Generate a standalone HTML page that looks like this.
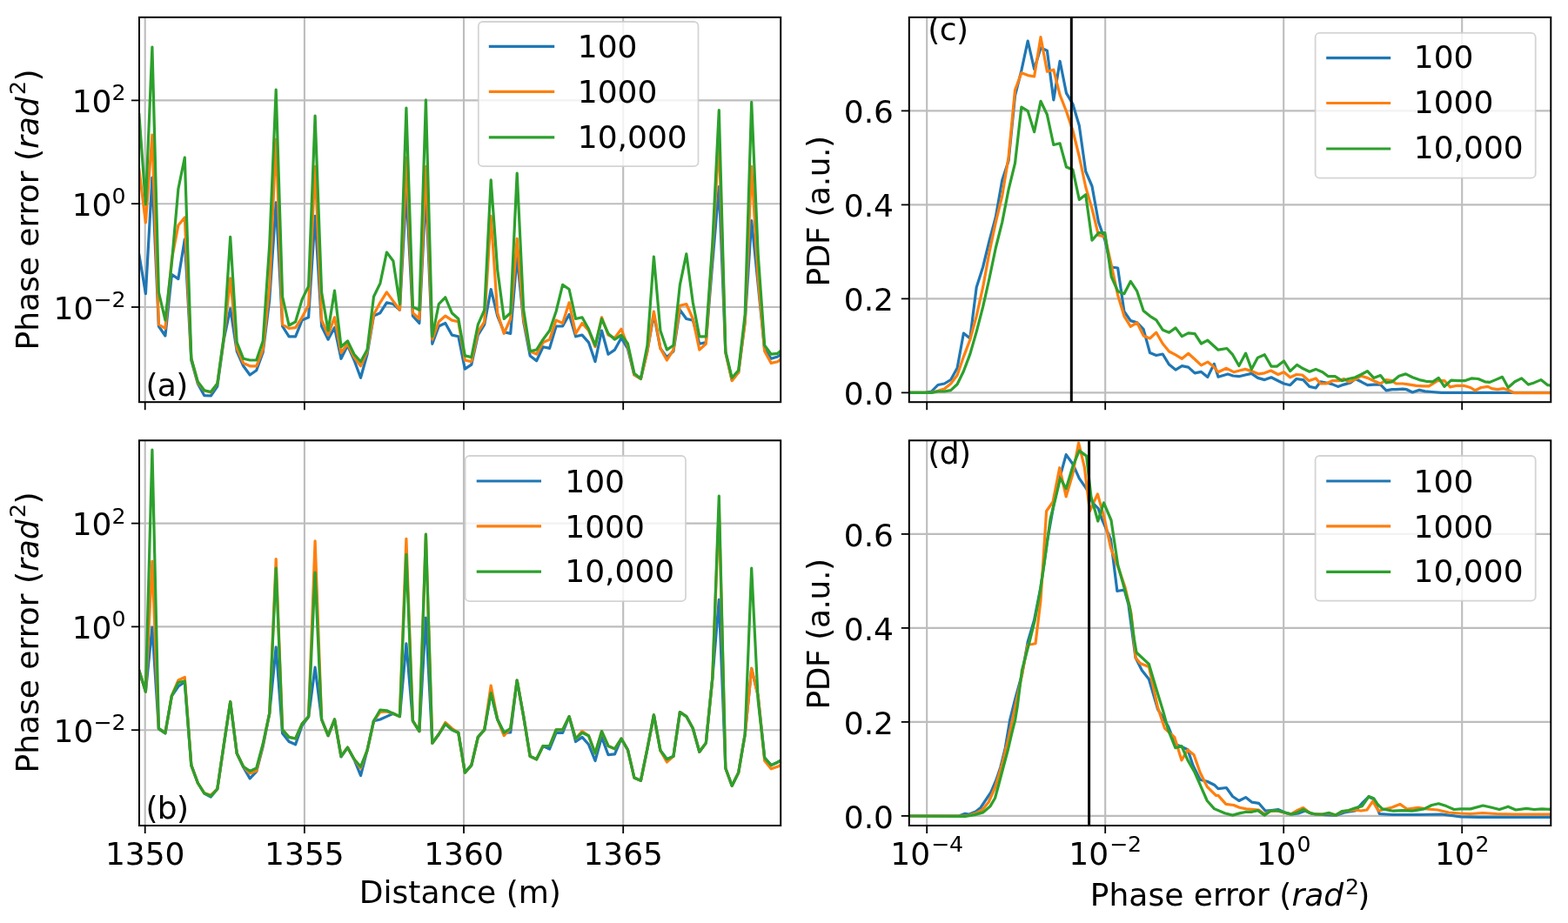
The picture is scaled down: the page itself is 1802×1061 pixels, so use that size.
<!DOCTYPE html>
<html><head><meta charset="utf-8"><title>Phase error figure</title>
<style>html,body{margin:0;padding:0;background:#fff;}body{width:1802px;height:1061px;overflow:hidden;}svg{display:block;}</style>
</head><body>
<svg width="1802" height="1061" viewBox="0 0 1802 1061" font-family="'DejaVu Sans', 'Liberation Sans', sans-serif" fill="#000"><defs><clipPath id="clipa"><rect x="160" y="19.9" width="737.2" height="442.3"/></clipPath><clipPath id="clipb"><rect x="160" y="506.3" width="737.2" height="442.7"/></clipPath><clipPath id="clipc"><rect x="1044.8" y="19.9" width="737.5" height="442.3"/></clipPath><clipPath id="clipd"><rect x="1044.8" y="506.3" width="737.5" height="442.7"/></clipPath></defs>
<line x1="166.7" y1="19.9" x2="166.7" y2="462.2" stroke="#bdbdbd" stroke-width="2.1"/>
<line x1="349.9" y1="19.9" x2="349.9" y2="462.2" stroke="#bdbdbd" stroke-width="2.1"/>
<line x1="533" y1="19.9" x2="533" y2="462.2" stroke="#bdbdbd" stroke-width="2.1"/>
<line x1="716.2" y1="19.9" x2="716.2" y2="462.2" stroke="#bdbdbd" stroke-width="2.1"/>
<line x1="160" y1="115.4" x2="897.2" y2="115.4" stroke="#bdbdbd" stroke-width="2.1"/>
<line x1="160" y1="234.2" x2="897.2" y2="234.2" stroke="#bdbdbd" stroke-width="2.1"/>
<line x1="160" y1="353" x2="897.2" y2="353" stroke="#bdbdbd" stroke-width="2.1"/>
<line x1="166.7" y1="506.3" x2="166.7" y2="949" stroke="#bdbdbd" stroke-width="2.1"/>
<line x1="349.9" y1="506.3" x2="349.9" y2="949" stroke="#bdbdbd" stroke-width="2.1"/>
<line x1="533" y1="506.3" x2="533" y2="949" stroke="#bdbdbd" stroke-width="2.1"/>
<line x1="716.2" y1="506.3" x2="716.2" y2="949" stroke="#bdbdbd" stroke-width="2.1"/>
<line x1="160" y1="601.6" x2="897.2" y2="601.6" stroke="#bdbdbd" stroke-width="2.1"/>
<line x1="160" y1="720.4" x2="897.2" y2="720.4" stroke="#bdbdbd" stroke-width="2.1"/>
<line x1="160" y1="839.2" x2="897.2" y2="839.2" stroke="#bdbdbd" stroke-width="2.1"/>
<line x1="1065.2" y1="19.9" x2="1065.2" y2="462.2" stroke="#bdbdbd" stroke-width="2.1"/>
<line x1="1270.2" y1="19.9" x2="1270.2" y2="462.2" stroke="#bdbdbd" stroke-width="2.1"/>
<line x1="1475.2" y1="19.9" x2="1475.2" y2="462.2" stroke="#bdbdbd" stroke-width="2.1"/>
<line x1="1680.2" y1="19.9" x2="1680.2" y2="462.2" stroke="#bdbdbd" stroke-width="2.1"/>
<line x1="1044.8" y1="451.4" x2="1782.3" y2="451.4" stroke="#bdbdbd" stroke-width="2.1"/>
<line x1="1044.8" y1="343.4" x2="1782.3" y2="343.4" stroke="#bdbdbd" stroke-width="2.1"/>
<line x1="1044.8" y1="235.4" x2="1782.3" y2="235.4" stroke="#bdbdbd" stroke-width="2.1"/>
<line x1="1044.8" y1="127.4" x2="1782.3" y2="127.4" stroke="#bdbdbd" stroke-width="2.1"/>
<line x1="1065.2" y1="506.3" x2="1065.2" y2="949" stroke="#bdbdbd" stroke-width="2.1"/>
<line x1="1270.2" y1="506.3" x2="1270.2" y2="949" stroke="#bdbdbd" stroke-width="2.1"/>
<line x1="1475.2" y1="506.3" x2="1475.2" y2="949" stroke="#bdbdbd" stroke-width="2.1"/>
<line x1="1680.2" y1="506.3" x2="1680.2" y2="949" stroke="#bdbdbd" stroke-width="2.1"/>
<line x1="1044.8" y1="937.9" x2="1782.3" y2="937.9" stroke="#bdbdbd" stroke-width="2.1"/>
<line x1="1044.8" y1="829.9" x2="1782.3" y2="829.9" stroke="#bdbdbd" stroke-width="2.1"/>
<line x1="1044.8" y1="721.9" x2="1782.3" y2="721.9" stroke="#bdbdbd" stroke-width="2.1"/>
<line x1="1044.8" y1="613.9" x2="1782.3" y2="613.9" stroke="#bdbdbd" stroke-width="2.1"/>
<polyline points="159.9,293 167.4,337.6 174.9,204 182.4,375 189.9,386 197.4,315.5 204.9,320.6 212.3,275 219.8,414 227.3,441 234.8,454.7 242.3,455 249.8,444 257.3,390 264.7,354.8 272.2,403.8 279.7,420.8 287.2,431 294.7,425.8 302.2,405 309.7,345 317.2,232.8 324.6,375 332.1,386.8 339.6,386.8 347.1,368.1 354.6,364.8 362.1,248.4 369.6,375 377.1,390.2 384.5,376.6 392,412.3 399.5,397 407,414 414.5,434.3 422,407.2 429.5,363.1 436.9,359.7 444.4,347.8 451.9,349.5 459.4,356.3 466.9,219.9 474.4,363.1 481.9,371.5 489.4,219.9 496.8,395.3 504.3,375 511.8,371.5 519.3,385.1 526.8,386.8 534.3,424.1 541.8,419.1 549.3,385.1 556.7,373.2 564.2,332.5 571.7,363.1 579.2,381.7 586.7,383.4 594.2,295 601.7,370 609.2,408.9 616.6,414.8 624.1,398.7 631.6,400.4 639.1,375 646.6,375 654.1,361.4 661.6,386.8 669,385.1 676.5,393.6 684,415.7 691.5,380 699,407.2 706.5,402.1 714,388.5 721.5,401 728.9,431 736.4,435.5 743.9,403.8 751.4,361.4 758.9,400.4 766.4,410.6 773.9,403.8 781.4,356.3 788.8,366.5 796.3,368.1 803.8,395.3 811.3,393.6 818.8,302 826.3,214.7 833.8,405 841.2,437 848.7,428 856.2,370 863.7,253.6 871.2,327 878.7,402 886.2,412.3 893.7,410 901.1,405" fill="none" stroke="#1f77b4" stroke-width="3.2" stroke-linejoin="round" stroke-linecap="square" clip-path="url(#clipa)"/>
<polyline points="159.9,195 167.4,256 174.9,155 182.4,373 189.9,377.5 197.4,298 204.9,259 212.3,250 219.8,412 227.3,440 234.8,449 242.3,451 249.8,441 257.3,388 264.7,319.8 272.2,400.4 279.7,417.4 287.2,420.8 294.7,420.8 302.2,402 309.7,330 317.2,160.2 324.6,373 332.1,377.5 339.6,376.6 347.1,364.8 354.6,351 362.1,191.4 369.6,368 377.1,385 384.5,364.8 392,405.5 399.5,395.3 407,410.6 414.5,420.8 422,403.8 429.5,361.4 436.9,347.8 444.4,335.9 451.9,346.1 459.4,356.3 466.9,181 474.4,359.7 481.9,366.5 489.4,191.4 496.8,390.2 504.3,369.8 511.8,363.1 519.3,368.1 526.8,369.8 534.3,414 541.8,415.7 549.3,381.7 556.7,369.8 564.2,248.4 571.7,359.7 579.2,383.4 586.7,366.5 594.2,274.3 601.7,366.5 609.2,403.8 616.6,407 624.1,393.6 631.6,390.2 639.1,368.1 646.6,371.5 654.1,347.8 661.6,383.4 669,371.5 676.5,380 684,398.7 691.5,364.8 699,385.1 706.5,388.5 714,378.3 721.5,398 728.9,431 736.4,435.5 743.9,403.8 751.4,358 758.9,400.4 766.4,414 773.9,402.1 781.4,351.2 788.8,349.5 796.3,366.5 803.8,402.1 811.3,395.3 818.8,286.7 826.3,160.2 833.8,405 841.2,437.7 848.7,428 856.2,370 863.7,191.4 871.2,319 878.7,403.8 886.2,417.4 893.7,415.7 901.1,410" fill="none" stroke="#ff7f0e" stroke-width="3.2" stroke-linejoin="round" stroke-linecap="square" clip-path="url(#clipa)"/>
<polyline points="159.9,131.7 167.4,235 174.9,54 182.4,336 189.9,368 197.4,302 204.9,217 212.3,181 219.8,412 227.3,438.6 234.8,448.8 242.3,450.5 249.8,441 257.3,386.8 264.7,272.4 272.2,393.6 279.7,412.3 287.2,414 294.7,414 302.2,392 309.7,282 317.2,103.2 324.6,341 332.1,374 339.6,369.8 347.1,344.4 354.6,329 362.1,133 369.6,336 377.1,380 384.5,334.2 392,398.7 399.5,391.9 407,407.2 414.5,415.7 422,402.1 429.5,341 436.9,325.7 444.4,290 451.9,300 459.4,349.5 466.9,124 474.4,352.9 481.9,356.3 489.4,114.8 496.8,386.8 504.3,349.5 511.8,341.8 519.3,359.7 526.8,366.5 534.3,408.9 541.8,410.6 549.3,373.2 556.7,356.3 564.2,206.9 571.7,310 579.2,366.5 586.7,359.7 594.2,199.1 601.7,356 609.2,403.8 616.6,402 624.1,390.2 631.6,380 639.1,358 646.6,327.4 654.1,332.5 661.6,366.5 669,364.8 676.5,378.3 684,397 691.5,366.5 699,383.4 706.5,390.2 714,385.1 721.5,395 728.9,429.2 736.4,435.2 743.9,397 751.4,295.2 758.9,380 766.4,402.1 773.9,397 781.4,327.4 788.8,291.8 796.3,347.8 803.8,386.8 811.3,386.8 818.8,280 826.3,126.5 833.8,403.8 841.2,434.3 848.7,425.8 856.2,361.4 863.7,117.4 871.2,292 878.7,397 886.2,407.2 893.7,406.3 901.1,400" fill="none" stroke="#2ca02c" stroke-width="3.2" stroke-linejoin="round" stroke-linecap="square" clip-path="url(#clipa)"/>
<polyline points="159.9,771 167.4,795.1 174.9,721 182.4,838 189.9,843 197.4,800 204.9,789 212.3,784 219.8,879.6 227.3,900 234.8,912 242.3,916 249.8,907 257.3,855.8 264.7,807 272.2,866 279.7,882 287.2,894.9 294.7,887 302.2,858 309.7,820.2 317.2,743.8 324.6,843 332.1,852.5 339.6,855.8 347.1,834 354.6,824 362.1,767.1 369.6,827 377.1,845.7 384.5,827 392,870 399.5,859.2 407,873 414.5,891.5 422,862.6 429.5,828.7 436.9,827 444.4,823.6 451.9,820.2 459.4,823.6 466.9,739.9 474.4,828.7 481.9,840.6 489.4,710 496.8,854.2 504.3,844 511.8,832.1 519.3,838.9 526.8,842.3 534.3,888.1 541.8,879.6 549.3,847.4 556.7,838.9 564.2,796.5 571.7,827 579.2,842.3 586.7,842 594.2,782 601.7,823.6 609.2,869.4 616.6,872.8 624.1,857.5 631.6,861 639.1,842.3 646.6,842.3 654.1,823.6 661.6,852.5 669,847.4 676.5,855.8 684,874.5 691.5,847.4 699,867.7 706.5,866.9 714,849.1 721.5,862 728.9,894 736.4,897.4 743.9,860.9 751.4,821.9 758.9,862.6 766.4,872.8 773.9,869.4 781.4,818.5 788.8,823.6 796.3,837.2 803.8,864.3 811.3,854.1 818.8,779.5 826.3,689.3 833.8,883 841.2,903.3 848.7,888.1 856.2,844 863.7,768.4 871.2,800 878.7,871.1 886.2,879.6 893.7,876.2 901.1,872" fill="none" stroke="#1f77b4" stroke-width="3.2" stroke-linejoin="round" stroke-linecap="square" clip-path="url(#clipb)"/>
<polyline points="159.9,771 167.4,795.1 174.9,645 182.4,837.4 189.9,842.6 197.4,799.6 204.9,782 212.3,778.5 219.8,879.6 227.3,900 234.8,911.8 242.3,914 249.8,906.8 257.3,855.8 264.7,806.6 272.2,866 279.7,881.3 287.2,889 294.7,886 302.2,856 309.7,820.2 317.2,642.6 324.6,838.9 332.1,847.4 339.6,849 347.1,832.1 354.6,823.6 362.1,621.9 369.6,827 377.1,845.7 384.5,827 392,869.4 399.5,859.2 407,872.8 414.5,883 422,862.6 429.5,828.7 436.9,818.5 444.4,818 451.9,820.2 459.4,823.6 466.9,619.3 474.4,828.7 481.9,840.6 489.4,614.1 496.8,854.2 504.3,844 511.8,830.4 519.3,837.2 526.8,842.3 534.3,888.1 541.8,879.6 549.3,847.4 556.7,838.9 564.2,788 571.7,827 579.2,845.7 586.7,837.2 594.2,782 601.7,823.6 609.2,869.4 616.6,872.8 624.1,857.5 631.6,857.5 639.1,838.9 646.6,838.9 654.1,823.6 661.6,849.1 669,840.6 676.5,845.7 684,866 691.5,840.6 699,857.5 706.5,860.9 714,849.1 721.5,862 728.9,894 736.4,897.4 743.9,860.9 751.4,821.9 758.9,862.6 766.4,876 773.9,869.4 781.4,818.5 788.8,823.6 796.3,837.2 803.8,864.3 811.3,854.1 818.8,779.5 826.3,583 833.8,883 841.2,903.3 848.7,888.1 856.2,844 863.7,768.4 871.2,800 878.7,874.5 886.2,883.8 893.7,881.3 901.1,877" fill="none" stroke="#ff7f0e" stroke-width="3.2" stroke-linejoin="round" stroke-linecap="square" clip-path="url(#clipb)"/>
<polyline points="159.9,771 167.4,795.1 174.9,517 182.4,837.4 189.9,842.6 197.4,799.6 204.9,784.5 212.3,783 219.8,879.6 227.3,900 234.8,911.8 242.3,915.2 249.8,906.8 257.3,855.8 264.7,806.6 272.2,866 279.7,881.3 287.2,886.4 294.7,883 302.2,855 309.7,820.2 317.2,653 324.6,838.9 332.1,847.4 339.6,849 347.1,832.1 354.6,823.6 362.1,658.2 369.6,827 377.1,845.7 384.5,827 392,869.4 399.5,859.2 407,872.8 414.5,881.3 422,862.6 429.5,828.7 436.9,816 444.4,816.8 451.9,820.2 459.4,823.6 466.9,637.4 474.4,828.7 481.9,840.6 489.4,614.1 496.8,854.2 504.3,844 511.8,832.1 519.3,838.9 526.8,842.3 534.3,888.1 541.8,879.6 549.3,847.4 556.7,838.9 564.2,796.5 571.7,827 579.2,842.3 586.7,837.2 594.2,782 601.7,823.6 609.2,869.4 616.6,872.8 624.1,857.5 631.6,857.5 639.1,838.9 646.6,838.9 654.1,823.6 661.6,849.1 669,842.3 676.5,845.7 684,866 691.5,840.6 699,857.5 706.5,860.9 714,849.1 721.5,862 728.9,894 736.4,897.4 743.9,860.9 751.4,821.9 758.9,862.6 766.4,872.8 773.9,869.4 781.4,818.5 788.8,823.6 796.3,837.2 803.8,864.3 811.3,854.1 818.8,779.5 826.3,570 833.8,883 841.2,903.3 848.7,888.1 856.2,844 863.7,653 871.2,805 878.7,871.1 886.2,879.6 893.7,876.2 901.1,872" fill="none" stroke="#2ca02c" stroke-width="3.2" stroke-linejoin="round" stroke-linecap="square" clip-path="url(#clipb)"/>
<polyline points="1041,451.3 1048.4,451.3 1055.8,451.3 1063.2,451.3 1070.5,450 1077.9,442.5 1085.3,441 1092.7,436.5 1100.1,423 1107.4,383 1114.8,389 1122.2,330.2 1129.6,307 1137,276.7 1144.3,249.5 1151.7,207.3 1159.1,184.7 1166.5,110 1173.9,80.9 1181.2,47 1188.6,79.5 1196,55 1203.4,58.3 1210.8,114.9 1218.1,70.3 1225.5,107.1 1232.9,119.5 1240.3,144.4 1247.7,197 1255,214 1262.4,255 1269.8,276 1277.2,307 1284.6,308 1291.9,358 1299.3,368.6 1306.7,370.9 1314.1,378.4 1321.5,405.5 1328.8,408.5 1336.2,407 1343.6,419.1 1351,425.1 1358.4,420.6 1365.7,422.1 1373.1,428.9 1380.5,427.4 1387.9,433.4 1395.3,418.3 1400,433.3 1411.1,430 1417,432 1423.9,432.7 1431.1,431 1438.3,429.4 1445.5,434.4 1453.3,436.6 1461,433.8 1468.8,437.7 1475.5,441 1482.7,442.7 1489.9,435.5 1497.7,436.6 1504.9,444.4 1512.1,446 1517.6,438.8 1524.3,440 1531,441.6 1537.6,444.4 1544.3,442.1 1552,439.9 1557.6,435.5 1564.3,438.8 1571.5,442.7 1578.7,442.1 1586.5,442.1 1593.1,448.8 1599.8,447.7 1604.4,447.7 1612.2,447.1 1616.6,447.7 1623.3,451 1631.1,448.2 1637.7,449.9 1645.5,450.5 1656.6,451.3 1786,451.3" fill="none" stroke="#1f77b4" stroke-width="3.2" stroke-linejoin="round" stroke-linecap="square" clip-path="url(#clipc)"/>
<polyline points="1041,451.3 1048.4,451.3 1055.8,451.3 1063.2,451.3 1070.5,451.3 1077.9,449.3 1085.3,447 1092.7,441 1100.1,431.2 1107.4,410.1 1114.8,390.5 1122.2,363.3 1129.6,330.2 1137,290 1144.3,255.6 1151.7,225.4 1159.1,180.2 1166.5,103.5 1173.9,83.7 1181.2,86.6 1188.6,88 1196,42.7 1203.4,82.3 1210.8,80.2 1218.1,109.2 1225.5,128 1232.9,150 1240.3,180 1247.7,215 1255,240 1262.4,270.5 1269.8,272 1277.2,304.5 1284.6,339.2 1291.9,363.3 1299.3,375.4 1306.7,370.9 1314.1,385.9 1321.5,389 1328.8,382.2 1336.2,395 1343.6,404 1351,407.8 1358.4,412.3 1365.7,406.3 1373.1,413 1380.5,419.9 1387.9,416.1 1395.3,422.1 1400,427.7 1409.4,423.3 1417.8,427.7 1424.4,426 1431.1,424.4 1438.3,426.6 1446.6,429.9 1453.3,428.8 1460.5,426 1468.8,430.5 1475.5,427.7 1482.7,433.8 1489.9,430.5 1496.6,431 1504.3,437.7 1512.1,434.9 1517.6,441 1524.3,441 1531,437.7 1538.7,437.7 1544.3,435.5 1550.5,439 1557.6,436 1564.3,432.2 1571.5,434.4 1578.7,437.7 1586.5,441 1593.1,436.6 1599.8,437.7 1604.4,441 1612.2,441 1620,442.1 1627.7,443.3 1635.5,443.8 1642.2,443.8 1652.2,437.7 1660,437.7 1666.6,444.9 1674.4,443.3 1682.1,443.3 1689.9,445.5 1695.4,448.8 1702.1,445.5 1709.9,444.4 1714.3,446.6 1721,447.7 1727.6,446.6 1734.3,448.8 1739.8,451.6 1786,451.6" fill="none" stroke="#ff7f0e" stroke-width="3.2" stroke-linejoin="round" stroke-linecap="square" clip-path="url(#clipc)"/>
<polyline points="1041,451.3 1048.4,451.3 1055.8,451.3 1063.2,451.3 1070.5,451.3 1077.9,450 1085.3,450 1092.7,448.6 1100.1,441.8 1107.4,426.7 1114.8,407.1 1122.2,381.4 1129.6,352.8 1137,320 1144.3,285 1151.7,255.6 1159.1,217.9 1166.5,187.7 1173.9,123 1181.2,127.6 1188.6,151.6 1196,116.3 1203.4,131.8 1210.8,166.5 1218.1,164.8 1225.5,192 1232.9,195 1240.3,229.5 1247.7,223.8 1255,276.2 1262.4,267.7 1269.8,267.7 1277.2,318 1284.6,334.7 1291.9,337.7 1299.3,323.4 1306.7,334.7 1314.1,357.3 1321.5,363.3 1328.8,367.8 1336.2,379.2 1343.6,382.2 1351,376.9 1358.4,386.7 1365.7,382.9 1373.1,383.7 1380.5,395 1387.9,391.2 1395.3,398 1400,402.2 1410,400.5 1416.6,407.7 1423.9,420.5 1431.6,406.1 1438.3,424.4 1445.5,411.1 1453.3,407.7 1461,421.1 1467.7,421.1 1475.5,415 1482.7,426.6 1490.5,419.4 1497.7,423.8 1504.9,427.2 1512.1,424.4 1519.9,427.7 1526.5,432.7 1534.3,432.7 1542.1,437.7 1549.8,435.5 1557.6,433.8 1564.3,430.5 1571.5,426.6 1578.7,434.4 1586.5,431.6 1593.1,439.9 1600,438.8 1607.8,432.2 1615.5,429.9 1623.3,433.8 1631.1,436.6 1638.8,438.3 1646.6,438.8 1653.3,434.4 1659.9,444.4 1667.7,437.1 1675.5,437.7 1683.2,437.7 1691,434.9 1698.8,435.5 1706.5,438.8 1712.1,439.4 1718.7,436.6 1726.5,433.3 1733.2,445.5 1740.9,438.8 1748.7,434.9 1756.5,442.1 1763.1,439.9 1770.9,436.6 1778.7,442.7 1786,443.3" fill="none" stroke="#2ca02c" stroke-width="3.2" stroke-linejoin="round" stroke-linecap="square" clip-path="url(#clipc)"/>
<polyline points="1039,938 1102,938 1109.1,935.3 1113.8,936 1121.3,933 1126.9,928.5 1138.8,910.7 1144.7,897 1149.8,882 1155.2,860.1 1160.7,827.3 1164.8,810.9 1167.1,802 1174.6,775 1181.1,738 1188.5,713 1196,675 1203.5,622 1211,580 1217.7,549.8 1225.2,522.6 1232.8,533.2 1240.3,549.8 1248.6,561.8 1255.8,578 1262.2,584.5 1266,596 1276.5,620 1283.9,679.5 1292.2,678 1296.8,694.6 1305,756 1312.3,770.5 1320.4,780.7 1330.5,815.1 1342.7,835.4 1350.8,855.6 1357,858 1365,861.7 1371.1,880 1379.2,896.2 1387.3,898.2 1395.4,902.2 1400,906.6 1409.4,905.5 1416.6,915.5 1423.9,920.5 1431.6,916.6 1438.8,922.2 1446.6,923.3 1454.4,932.2 1461,931.5 1468.8,930.5 1477.7,934.4 1485,936 1492,935 1500,932 1508,935.5 1520,936.5 1534.8,937.5 1545,934 1557.6,932 1566.5,922.2 1573,916 1578.7,918.5 1585.3,935.5 1600,936.5 1630,936.5 1656.6,936 1678.8,938.8 1700,939.4 1786,939.4" fill="none" stroke="#1f77b4" stroke-width="3.2" stroke-linejoin="round" stroke-linecap="square" clip-path="url(#clipd)"/>
<polyline points="1039,938 1109,938 1113.8,937 1121.3,935 1128.8,931 1136.2,922 1143.7,905 1151.2,880 1158.7,850 1166.1,815 1173.6,780 1181.1,741 1186.2,740.5 1190,739.7 1196,690 1202.6,587.5 1210,577 1217.7,537.7 1225.2,570.9 1232.8,545 1239.6,509 1246.4,537.7 1252.4,587.5 1261.4,567.9 1269,595 1276.5,630 1286.2,655.4 1293,675 1300,705 1305.2,756.3 1310.3,762.4 1320.4,766.5 1330.5,813.1 1338.6,837.4 1349.8,847.5 1357.9,873.9 1365,862 1372.1,867.8 1379.2,888 1387.3,904.3 1397.4,914.4 1400,914.4 1408.9,924.4 1417.8,925.5 1424.4,928.3 1432.2,929.9 1446.6,931 1453.3,936 1459.9,932.5 1467.7,932 1475.5,934 1483.2,936 1489.9,932 1497.7,928.5 1505.4,934.5 1512.1,936 1519.9,936 1527.6,935 1534.8,937.1 1542.1,933 1549.8,932 1557.6,931 1564,932 1570.9,931 1577.6,921.1 1584.2,932.2 1592,930 1600,928 1608.9,924.4 1617,930 1630,928.3 1640,930 1652.2,931 1665,934 1678,935 1689.9,935.5 1704,934.5 1720,935.5 1740,936 1786,936" fill="none" stroke="#ff7f0e" stroke-width="3.2" stroke-linejoin="round" stroke-linecap="square" clip-path="url(#clipd)"/>
<polyline points="1039,938 1109.1,938.3 1120.1,936.6 1129.6,933.9 1137.8,927.1 1143.5,917.5 1147.6,902.5 1153,882 1158.5,861.5 1163.3,841 1166.7,827.3 1169.4,810.9 1174.4,770.7 1183.2,737.5 1189.2,713.3 1195.2,680.2 1199.8,650 1207.1,596.5 1212.4,575.4 1218.5,549.8 1225.2,561.8 1232.8,536.2 1240.3,518.1 1248.6,524.1 1253.9,570.9 1261.8,599 1268.5,578 1277,598 1284.7,649.4 1292.2,676.5 1298.3,697.6 1303.5,735 1306,750 1320.4,763.4 1328.5,790.8 1336.6,817.1 1342.7,839.4 1350.8,859.7 1357.9,857.7 1365,873.9 1373.1,888 1380.2,904.3 1387.3,920.5 1395.4,929.6 1407.5,934.7 1416.6,937.1 1424.4,934.9 1432.2,933.3 1438.8,933.3 1445.5,931.6 1453.3,937.1 1459.9,932.2 1467.7,931.6 1475.5,933.8 1483.2,936 1489.9,934.4 1497.7,930.5 1505.4,934.5 1512.1,936 1519.9,936 1527.6,934.4 1534.8,937.1 1542.1,932.7 1549.8,931.6 1557.6,928.8 1565.4,926.6 1573.1,915.5 1578.7,917.7 1583.1,924.4 1588.7,929.9 1601.1,932.2 1612,931.6 1623,932.2 1636.6,929.9 1645.5,925.5 1653.3,923.8 1662.1,926.6 1671,930.5 1678.8,929.9 1689.9,929.9 1704.3,926 1714.3,928.3 1723.2,930.5 1733.2,927.2 1742,931 1754.3,929.4 1763.1,930.5 1772,929.9 1786,930.5" fill="none" stroke="#2ca02c" stroke-width="3.2" stroke-linejoin="round" stroke-linecap="square" clip-path="url(#clipd)"/>
<line x1="1231.3" y1="19.9" x2="1231.3" y2="462.2" stroke="#000000" stroke-width="3.0"/>
<line x1="1251.6" y1="506.3" x2="1251.6" y2="949" stroke="#000000" stroke-width="3.0"/>
<rect x="549.8" y="25" width="252.7" height="166.2" rx="5" ry="5" fill="#ffffff" fill-opacity="0.8" stroke="#cccccc" stroke-opacity="0.85" stroke-width="1.8"/>
<line x1="561.8" y1="53.4" x2="637.2" y2="53.4" stroke="#1f77b4" stroke-width="3.2"/>
<text x="663.8" y="66.2" font-size="36" text-anchor="start" >100</text>
<line x1="561.8" y1="105.4" x2="637.2" y2="105.4" stroke="#ff7f0e" stroke-width="3.2"/>
<text x="663.8" y="118.2" font-size="36" text-anchor="start" >1000</text>
<line x1="561.8" y1="157.9" x2="637.2" y2="157.9" stroke="#2ca02c" stroke-width="3.2"/>
<text x="663.8" y="169.9" font-size="36" text-anchor="start" >10,000</text>
<rect x="534.6" y="524" width="253.4" height="167.2" rx="5" ry="5" fill="#ffffff" fill-opacity="0.8" stroke="#cccccc" stroke-opacity="0.85" stroke-width="1.8"/>
<line x1="547.7" y1="553" x2="622" y2="553" stroke="#1f77b4" stroke-width="3.2"/>
<text x="649.3" y="565.6" font-size="36" text-anchor="start" >100</text>
<line x1="547.7" y1="604.9" x2="622" y2="604.9" stroke="#ff7f0e" stroke-width="3.2"/>
<text x="649.3" y="617.6" font-size="36" text-anchor="start" >1000</text>
<line x1="547.7" y1="657.2" x2="622" y2="657.2" stroke="#2ca02c" stroke-width="3.2"/>
<text x="649.3" y="669.3" font-size="36" text-anchor="start" >10,000</text>
<rect x="1511.6" y="37.9" width="253.1" height="166.8" rx="5" ry="5" fill="#ffffff" fill-opacity="0.8" stroke="#cccccc" stroke-opacity="0.85" stroke-width="1.8"/>
<line x1="1524.2" y1="66.6" x2="1598.2" y2="66.6" stroke="#1f77b4" stroke-width="3.2"/>
<text x="1624.8" y="78.4" font-size="36" text-anchor="start" >100</text>
<line x1="1524.2" y1="118.5" x2="1598.2" y2="118.5" stroke="#ff7f0e" stroke-width="3.2"/>
<text x="1624.8" y="130.4" font-size="36" text-anchor="start" >1000</text>
<line x1="1524.2" y1="171" x2="1598.2" y2="171" stroke="#2ca02c" stroke-width="3.2"/>
<text x="1624.8" y="182.1" font-size="36" text-anchor="start" >10,000</text>
<rect x="1511.6" y="524" width="253.1" height="166.7" rx="5" ry="5" fill="#ffffff" fill-opacity="0.8" stroke="#cccccc" stroke-opacity="0.85" stroke-width="1.8"/>
<line x1="1524.2" y1="553" x2="1598.2" y2="553" stroke="#1f77b4" stroke-width="3.2"/>
<text x="1624.6" y="565.6" font-size="36" text-anchor="start" >100</text>
<line x1="1524.2" y1="604.9" x2="1598.2" y2="604.9" stroke="#ff7f0e" stroke-width="3.2"/>
<text x="1624.6" y="617.6" font-size="36" text-anchor="start" >1000</text>
<line x1="1524.2" y1="657.4" x2="1598.2" y2="657.4" stroke="#2ca02c" stroke-width="3.2"/>
<text x="1624.6" y="669.3" font-size="36" text-anchor="start" >10,000</text>
<rect x="160" y="19.9" width="737.2" height="442.3" fill="none" stroke="#000" stroke-width="2.0" stroke-linejoin="miter"/>
<rect x="160" y="506.3" width="737.2" height="442.7" fill="none" stroke="#000" stroke-width="2.0" stroke-linejoin="miter"/>
<rect x="1044.8" y="19.9" width="737.5" height="442.3" fill="none" stroke="#000" stroke-width="2.0" stroke-linejoin="miter"/>
<rect x="1044.8" y="506.3" width="737.5" height="442.7" fill="none" stroke="#000" stroke-width="2.0" stroke-linejoin="miter"/>
<line x1="166.7" y1="462.2" x2="166.7" y2="471.2" stroke="#000" stroke-width="1.8"/>
<line x1="349.9" y1="462.2" x2="349.9" y2="471.2" stroke="#000" stroke-width="1.8"/>
<line x1="533" y1="462.2" x2="533" y2="471.2" stroke="#000" stroke-width="1.8"/>
<line x1="716.2" y1="462.2" x2="716.2" y2="471.2" stroke="#000" stroke-width="1.8"/>
<line x1="151" y1="115.4" x2="160" y2="115.4" stroke="#000" stroke-width="1.8"/>
<line x1="151" y1="234.2" x2="160" y2="234.2" stroke="#000" stroke-width="1.8"/>
<line x1="151" y1="353" x2="160" y2="353" stroke="#000" stroke-width="1.8"/>
<line x1="166.7" y1="949" x2="166.7" y2="958" stroke="#000" stroke-width="1.8"/>
<line x1="349.9" y1="949" x2="349.9" y2="958" stroke="#000" stroke-width="1.8"/>
<line x1="533" y1="949" x2="533" y2="958" stroke="#000" stroke-width="1.8"/>
<line x1="716.2" y1="949" x2="716.2" y2="958" stroke="#000" stroke-width="1.8"/>
<line x1="151" y1="601.6" x2="160" y2="601.6" stroke="#000" stroke-width="1.8"/>
<line x1="151" y1="720.4" x2="160" y2="720.4" stroke="#000" stroke-width="1.8"/>
<line x1="151" y1="839.2" x2="160" y2="839.2" stroke="#000" stroke-width="1.8"/>
<line x1="1065.2" y1="462.2" x2="1065.2" y2="471.2" stroke="#000" stroke-width="1.8"/>
<line x1="1270.2" y1="462.2" x2="1270.2" y2="471.2" stroke="#000" stroke-width="1.8"/>
<line x1="1475.2" y1="462.2" x2="1475.2" y2="471.2" stroke="#000" stroke-width="1.8"/>
<line x1="1680.2" y1="462.2" x2="1680.2" y2="471.2" stroke="#000" stroke-width="1.8"/>
<line x1="1035.8" y1="451.4" x2="1044.8" y2="451.4" stroke="#000" stroke-width="1.8"/>
<line x1="1035.8" y1="343.4" x2="1044.8" y2="343.4" stroke="#000" stroke-width="1.8"/>
<line x1="1035.8" y1="235.4" x2="1044.8" y2="235.4" stroke="#000" stroke-width="1.8"/>
<line x1="1035.8" y1="127.4" x2="1044.8" y2="127.4" stroke="#000" stroke-width="1.8"/>
<line x1="1065.2" y1="949" x2="1065.2" y2="958" stroke="#000" stroke-width="1.8"/>
<line x1="1270.2" y1="949" x2="1270.2" y2="958" stroke="#000" stroke-width="1.8"/>
<line x1="1475.2" y1="949" x2="1475.2" y2="958" stroke="#000" stroke-width="1.8"/>
<line x1="1680.2" y1="949" x2="1680.2" y2="958" stroke="#000" stroke-width="1.8"/>
<line x1="1035.8" y1="937.9" x2="1044.8" y2="937.9" stroke="#000" stroke-width="1.8"/>
<line x1="1035.8" y1="829.9" x2="1044.8" y2="829.9" stroke="#000" stroke-width="1.8"/>
<line x1="1035.8" y1="721.9" x2="1044.8" y2="721.9" stroke="#000" stroke-width="1.8"/>
<line x1="1035.8" y1="613.9" x2="1044.8" y2="613.9" stroke="#000" stroke-width="1.8"/>
<text x="144.5" y="129.2" font-size="36" text-anchor="end">10<tspan font-size="25.2" dx="0" dy="-13.8">2</tspan></text>
<text x="144.5" y="248" font-size="36" text-anchor="end">10<tspan font-size="25.2" dx="0" dy="-13.8">0</tspan></text>
<text x="144.5" y="366.8" font-size="36" text-anchor="end">10<tspan font-size="25.2" dx="0" dy="-13.8">−2</tspan></text>
<text x="144.5" y="615.4" font-size="36" text-anchor="end">10<tspan font-size="25.2" dx="0" dy="-13.8">2</tspan></text>
<text x="144.5" y="734.2" font-size="36" text-anchor="end">10<tspan font-size="25.2" dx="0" dy="-13.8">0</tspan></text>
<text x="144.5" y="853" font-size="36" text-anchor="end">10<tspan font-size="25.2" dx="0" dy="-13.8">−2</tspan></text>
<text x="166.7" y="994" font-size="36" text-anchor="middle" >1350</text>
<text x="349.9" y="994" font-size="36" text-anchor="middle" >1355</text>
<text x="533" y="994" font-size="36" text-anchor="middle" >1360</text>
<text x="716.2" y="994" font-size="36" text-anchor="middle" >1365</text>
<text x="1027" y="465.2" font-size="36" text-anchor="end" >0.0</text>
<text x="1027" y="357.2" font-size="36" text-anchor="end" >0.2</text>
<text x="1027" y="249.2" font-size="36" text-anchor="end" >0.4</text>
<text x="1027" y="141.2" font-size="36" text-anchor="end" >0.6</text>
<text x="1027" y="951.7" font-size="36" text-anchor="end" >0.0</text>
<text x="1027" y="843.7" font-size="36" text-anchor="end" >0.2</text>
<text x="1027" y="735.7" font-size="36" text-anchor="end" >0.4</text>
<text x="1027" y="627.7" font-size="36" text-anchor="end" >0.6</text>
<text x="1065.2" y="994" font-size="36" text-anchor="middle">10<tspan font-size="25.2" dx="0.7" dy="-15">−4</tspan></text>
<text x="1270.2" y="994" font-size="36" text-anchor="middle">10<tspan font-size="25.2" dx="0.7" dy="-15">−2</tspan></text>
<text x="1475.2" y="994" font-size="36" text-anchor="middle">10<tspan font-size="25.2" dx="0.7" dy="-15">0</tspan></text>
<text x="1680.2" y="994" font-size="36" text-anchor="middle">10<tspan font-size="25.2" dx="0.7" dy="-15">2</tspan></text>
<text x="0" y="0" font-size="36" text-anchor="middle" transform="translate(43.6,241) rotate(-90)">Phase error (<tspan font-style="italic">rad</tspan><tspan font-size="25.2" dx="2.4" dy="-14.2">2</tspan><tspan dx="-0.6" dy="14.2">)</tspan></text>
<text x="0" y="0" font-size="36" text-anchor="middle" transform="translate(43.6,727) rotate(-90)">Phase error (<tspan font-style="italic">rad</tspan><tspan font-size="25.2" dx="2.4" dy="-14.2">2</tspan><tspan dx="-0.6" dy="14.2">)</tspan></text>
<text x="0" y="0" font-size="36" text-anchor="middle" transform="translate(952.7,242.9) rotate(-90)"><tspan letter-spacing="-0.43">PDF (a.u.)</tspan></text>
<text x="0" y="0" font-size="36" text-anchor="middle" transform="translate(952.7,729) rotate(-90)"><tspan letter-spacing="-0.43">PDF (a.u.)</tspan></text>
<text x="528.8" y="1038.3" font-size="36" text-anchor="middle" >Distance (m)</text>
<text x="1413.6" y="1041.3" font-size="36" text-anchor="middle">Phase error (<tspan font-style="italic">rad</tspan><tspan font-size="25.2" dx="1.8" dy="-13.8">2</tspan><tspan dx="-1.6" dy="13.8">)</tspan></text>
<text x="167.4" y="455" font-size="36" text-anchor="start" letter-spacing="-0.6">(a)</text>
<text x="167.4" y="940.8" font-size="36" text-anchor="start" letter-spacing="-0.6">(b)</text>
<text x="1066.2" y="45.9" font-size="36" text-anchor="start" letter-spacing="-0.5">(c)</text>
<text x="1066.2" y="532.6" font-size="36" text-anchor="start" letter-spacing="-0.5">(d)</text></svg>
</body></html>
